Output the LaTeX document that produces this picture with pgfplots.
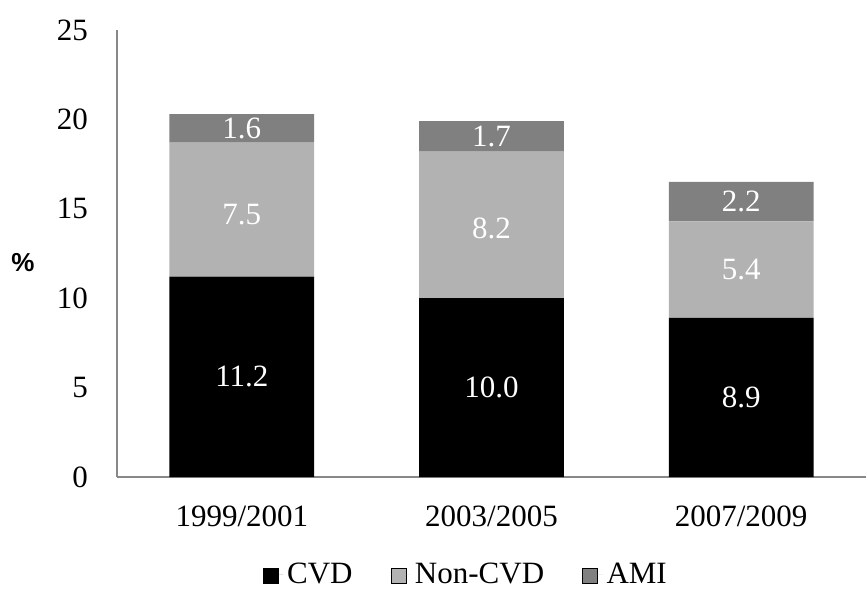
\documentclass[border=0pt]{standalone}
\usepackage{pgfplots}
\pgfplotsset{compat=1.18}
\usepackage{fontspec}
\setmainfont{Liberation Serif}
\setsansfont{Liberation Sans}
\definecolor{cvd}{HTML}{000000}
\definecolor{noncvd}{HTML}{B2B2B2}
\definecolor{ami}{HTML}{808080}
\definecolor{axgray}{HTML}{888888}
\begin{document}
\begin{tikzpicture}
\pgfplotsset{
  base/.style={
    width=374.5pt, height=223.5pt, scale only axis,
    xmin=-0.5, xmax=2.5, ymin=0, ymax=25,
  }
}
\begin{axis}[base,
  ybar stacked, bar width=0.58,
  axis lines*=left,
  axis line style={axgray, line width=0.8pt},
  major tick length=0pt,
  xtick={0,1,2}, xticklabels={1999/2001,2003/2005,2007/2009},
  ytick={0,5,10,15,20,25},
  /pgf/number format/assume math mode=true,
  tick label style={font=\fontsize{15.5}{18}\selectfont},
  yticklabel shift=11pt,
  xticklabel shift=11pt,
  legend columns=3,
  legend style={draw=none, at={(0.467,-0.219)}, anchor=center,
    font=\fontsize{15.5}{18}\selectfont,
    /tikz/every even column/.append style={column sep=17pt}},
  legend image code/.code={\draw[#1] (0pt,-4pt) rectangle (7.5pt,3.5pt);
    \path (0pt,0pt) -- (10pt,0pt);},
]
\addplot[fill=cvd, draw=none] coordinates {(0,11.2) (1,10.0) (2,8.9)};
\addplot[fill=noncvd, draw=none] coordinates {(0,7.5) (1,8.2) (2,5.4)};
\addplot[fill=ami, draw=none] coordinates {(0,1.6) (1,1.7) (2,2.2)};
\legend{CVD, Non-CVD, AMI}
\coordinate (o) at (rel axis cs:0,0);
\coordinate (t) at (rel axis cs:1,1);
\coordinate (p) at (rel axis cs:0,0.48);
\end{axis}
\begin{axis}[base, hide axis]
\addplot[only marks, mark=none, nodes near coords, point meta=explicit symbolic,
  nodes near coords align={center},
  every node near coord/.append style={text=white, font=\fontsize{15.5}{18}\selectfont}]
  table[meta=lab] {
x y lab
0 5.6 11.2
1 5.0 10.0
2 4.45 8.9
0 14.7 7.5
1 13.9 8.2
2 11.6 5.4
0 19.5 1.6
1 19.05 1.7
2 15.4 2.2
};
\end{axis}
\node[font=\sffamily\bfseries\fontsize{13}{15}\selectfont] at ([xshift=-47pt]p) {\%};
\pgfresetboundingbox
\path ([shift={(-58.5pt,-56.5pt)}]o) rectangle ([shift={(0pt,15pt)}]t);
\end{tikzpicture}
\end{document}
